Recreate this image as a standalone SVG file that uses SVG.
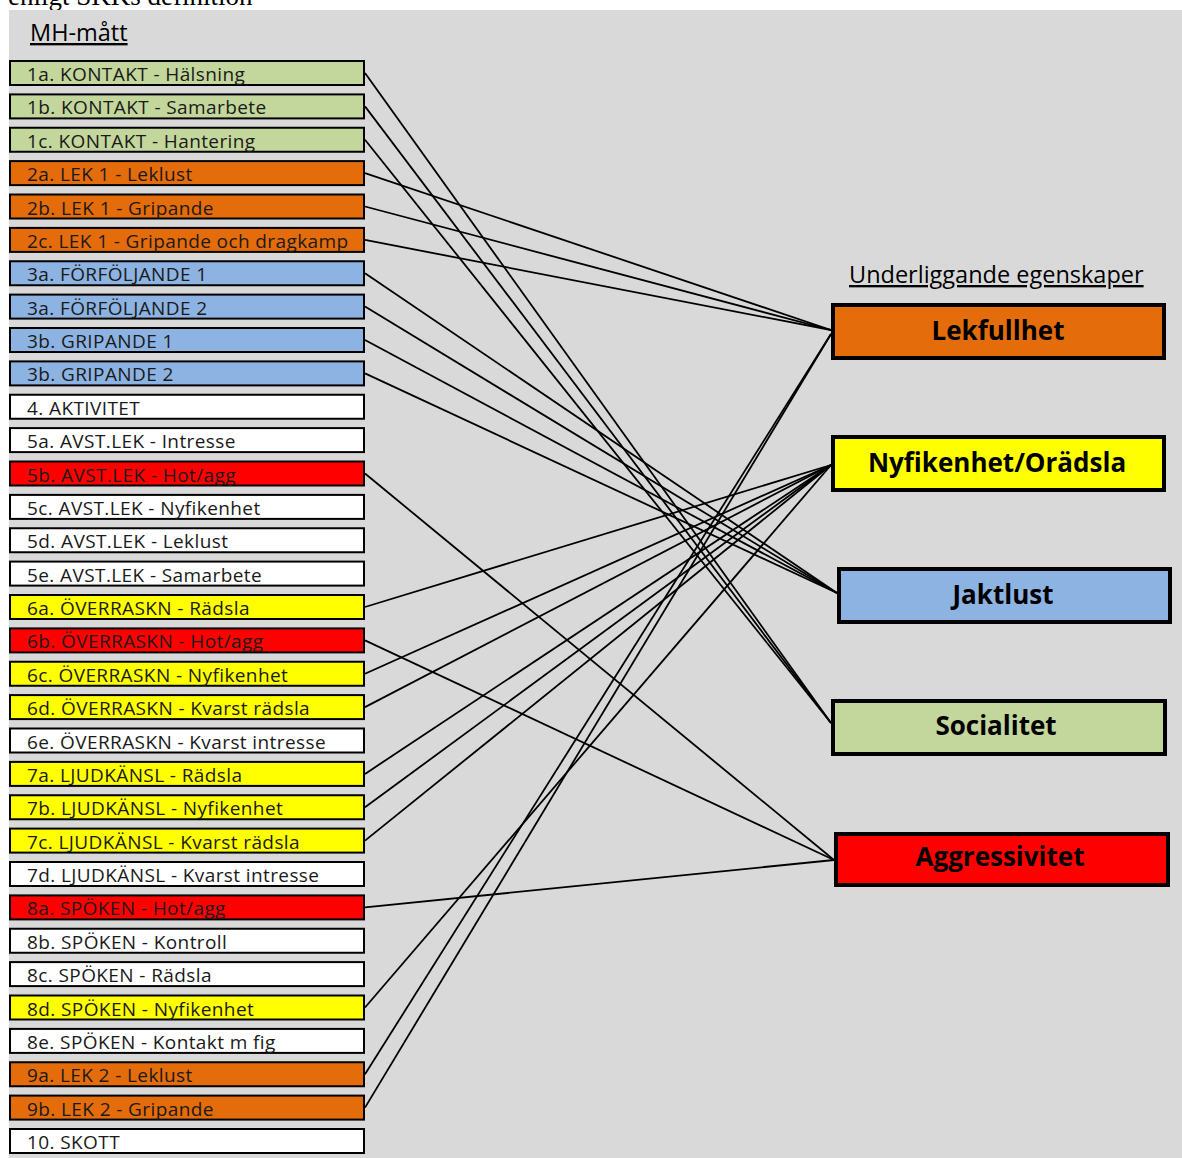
<svg xmlns="http://www.w3.org/2000/svg" width="1182" height="1158" viewBox="0 0 1182 1158">
<style>
.bg{fill:#d9d9d9}
.lb{stroke:#000;stroke-width:2}
.lt{font-family:"Open Sans","Noto Sans",sans-serif;font-size:19px;letter-spacing:0.4px;fill:#1a1a1a}
.rb{stroke:#000;stroke-width:4}
.rt{font-family:"Open Sans","Noto Sans",sans-serif;font-size:26px;font-weight:bold;fill:#000;text-anchor:middle}
.hd{font-family:"Open Sans","Noto Sans",sans-serif;font-size:23.5px;fill:#000;text-decoration:underline}
.g{fill:#c3d69b}.o{fill:#e46c0a}.b{fill:#8db3e2}.w{fill:#fff}.y{fill:#ffff00}.r{fill:#ff0000}
#connectors line{stroke:#000;stroke-width:1.8}
</style>
<text x="8" y="5" style="font-family:'Liberation Serif',serif;font-size:27px;fill:#000">enligt SKKs definition</text>
<rect class="bg" x="9" y="10" width="1173" height="1148"/>
<text class="hd" x="30" y="41">MH-mått</text>
<text class="hd" x="849" y="283">Underliggande egenskaper</text>
<g id="connectors">
<line x1="365" y1="73" x2="831" y2="723"/>
<line x1="365" y1="106.4" x2="831" y2="723"/>
<line x1="365" y1="139.75" x2="831" y2="723"/>
<line x1="365" y1="173.1" x2="831" y2="330"/>
<line x1="365" y1="206.5" x2="831" y2="330"/>
<line x1="365" y1="239.9" x2="831" y2="330"/>
<line x1="365" y1="273.25" x2="837" y2="593"/>
<line x1="365" y1="306.6" x2="837" y2="593"/>
<line x1="365" y1="340" x2="837" y2="593"/>
<line x1="365" y1="373.4" x2="837" y2="593"/>
<line x1="365" y1="473.5" x2="834" y2="860"/>
<line x1="365" y1="640.4" x2="834" y2="860"/>
<line x1="365" y1="907.4" x2="834" y2="860"/>
<line x1="365" y1="607" x2="831" y2="465"/>
<line x1="365" y1="673.75" x2="831" y2="465"/>
<line x1="365" y1="707.1" x2="831" y2="465"/>
<line x1="365" y1="773.9" x2="831" y2="465"/>
<line x1="365" y1="807.25" x2="831" y2="465"/>
<line x1="365" y1="840.6" x2="831" y2="465"/>
<line x1="365" y1="1007.5" x2="831" y2="465"/>
<line x1="365" y1="1074.25" x2="831" y2="334"/>
<line x1="365" y1="1107.6" x2="831" y2="334"/>
</g>
<g id="n1a"><rect class="lb g" x="10" y="61" width="354" height="24"/><text class="lt" x="27" y="81">1a. KONTAKT - Hälsning</text></g>
<g id="n1b"><rect class="lb g" x="10" y="94.4" width="354" height="24"/><text class="lt" x="27" y="114.4">1b. KONTAKT - Samarbete</text></g>
<g id="n1c"><rect class="lb g" x="10" y="127.75" width="354" height="24"/><text class="lt" x="27" y="147.75">1c. KONTAKT - Hantering</text></g>
<g id="n2a"><rect class="lb o" x="10" y="161.1" width="354" height="24"/><text class="lt" x="27" y="181.1">2a. LEK 1 - Leklust</text></g>
<g id="n2b"><rect class="lb o" x="10" y="194.5" width="354" height="24"/><text class="lt" x="27" y="214.5">2b. LEK 1 - Gripande</text></g>
<g id="n2c"><rect class="lb o" x="10" y="227.9" width="354" height="24"/><text class="lt" x="27" y="247.9">2c. LEK 1 - Gripande och dragkamp</text></g>
<g id="n3a1"><rect class="lb b" x="10" y="261.25" width="354" height="24"/><text class="lt" x="27" y="281.25">3a. FÖRFÖLJANDE 1</text></g>
<g id="n3a2"><rect class="lb b" x="10" y="294.6" width="354" height="24"/><text class="lt" x="27" y="314.6">3a. FÖRFÖLJANDE 2</text></g>
<g id="n3b1"><rect class="lb b" x="10" y="328" width="354" height="24"/><text class="lt" x="27" y="348">3b. GRIPANDE 1</text></g>
<g id="n3b2"><rect class="lb b" x="10" y="361.4" width="354" height="24"/><text class="lt" x="27" y="381.4">3b. GRIPANDE 2</text></g>
<g id="n4"><rect class="lb w" x="10" y="394.75" width="354" height="24"/><text class="lt" x="27" y="414.75">4. AKTIVITET</text></g>
<g id="n5a"><rect class="lb w" x="10" y="428.1" width="354" height="24"/><text class="lt" x="27" y="448.1">5a. AVST.LEK - Intresse</text></g>
<g id="n5b"><rect class="lb r" x="10" y="461.5" width="354" height="24"/><text class="lt" x="27" y="481.5">5b. AVST.LEK - Hot/agg</text></g>
<g id="n5c"><rect class="lb w" x="10" y="494.9" width="354" height="24"/><text class="lt" x="27" y="514.9">5c. AVST.LEK - Nyfikenhet</text></g>
<g id="n5d"><rect class="lb w" x="10" y="528.25" width="354" height="24"/><text class="lt" x="27" y="548.25">5d. AVST.LEK - Leklust</text></g>
<g id="n5e"><rect class="lb w" x="10" y="561.6" width="354" height="24"/><text class="lt" x="27" y="581.6">5e. AVST.LEK - Samarbete</text></g>
<g id="n6a"><rect class="lb y" x="10" y="595" width="354" height="24"/><text class="lt" x="27" y="615">6a. ÖVERRASKN - Rädsla</text></g>
<g id="n6b"><rect class="lb r" x="10" y="628.4" width="354" height="24"/><text class="lt" x="27" y="648.4">6b. ÖVERRASKN - Hot/agg</text></g>
<g id="n6c"><rect class="lb y" x="10" y="661.75" width="354" height="24"/><text class="lt" x="27" y="681.75">6c. ÖVERRASKN - Nyfikenhet</text></g>
<g id="n6d"><rect class="lb y" x="10" y="695.1" width="354" height="24"/><text class="lt" x="27" y="715.1">6d. ÖVERRASKN - Kvarst rädsla</text></g>
<g id="n6e"><rect class="lb w" x="10" y="728.5" width="354" height="24"/><text class="lt" x="27" y="748.5">6e. ÖVERRASKN - Kvarst intresse</text></g>
<g id="n7a"><rect class="lb y" x="10" y="761.9" width="354" height="24"/><text class="lt" x="27" y="781.9">7a. LJUDKÄNSL - Rädsla</text></g>
<g id="n7b"><rect class="lb y" x="10" y="795.25" width="354" height="24"/><text class="lt" x="27" y="815.25">7b. LJUDKÄNSL - Nyfikenhet</text></g>
<g id="n7c"><rect class="lb y" x="10" y="828.6" width="354" height="24"/><text class="lt" x="27" y="848.6">7c. LJUDKÄNSL - Kvarst rädsla</text></g>
<g id="n7d"><rect class="lb w" x="10" y="862" width="354" height="24"/><text class="lt" x="27" y="882">7d. LJUDKÄNSL - Kvarst intresse</text></g>
<g id="n8a"><rect class="lb r" x="10" y="895.4" width="354" height="24"/><text class="lt" x="27" y="915.4">8a. SPÖKEN - Hot/agg</text></g>
<g id="n8b"><rect class="lb w" x="10" y="928.75" width="354" height="24"/><text class="lt" x="27" y="948.75">8b. SPÖKEN - Kontroll</text></g>
<g id="n8c"><rect class="lb w" x="10" y="962.1" width="354" height="24"/><text class="lt" x="27" y="982.1">8c. SPÖKEN - Rädsla</text></g>
<g id="n8d"><rect class="lb y" x="10" y="995.5" width="354" height="24"/><text class="lt" x="27" y="1015.5">8d. SPÖKEN - Nyfikenhet</text></g>
<g id="n8e"><rect class="lb w" x="10" y="1028.9" width="354" height="24"/><text class="lt" x="27" y="1048.9">8e. SPÖKEN - Kontakt m fig</text></g>
<g id="n9a"><rect class="lb o" x="10" y="1062.25" width="354" height="24"/><text class="lt" x="27" y="1082.25">9a. LEK 2 - Leklust</text></g>
<g id="n9b"><rect class="lb o" x="10" y="1095.6" width="354" height="24"/><text class="lt" x="27" y="1115.6">9b. LEK 2 - Gripande</text></g>
<g id="n10"><rect class="lb w" x="10" y="1129" width="354" height="24"/><text class="lt" x="27" y="1149">10. SKOTT</text></g>
<g id="lekfullhet"><rect class="rb o" x="833" y="305" width="331" height="53"/><text class="rt" x="998" y="340">Lekfullhet</text></g>
<g id="nyfikenhet"><rect class="rb y" x="833" y="437" width="331" height="53"/><text class="rt" x="997" y="472">Nyfikenhet/Orädsla</text></g>
<g id="jaktlust"><rect class="rb b" x="839" y="569" width="331" height="53"/><text class="rt" x="1003" y="604">Jaktlust</text></g>
<g id="socialitet"><rect class="rb g" x="833" y="701" width="332" height="53"/><text class="rt" x="996" y="735">Socialitet</text></g>
<g id="aggressivitet"><rect class="rb r" x="836" y="834" width="332" height="51"/><text class="rt" x="1000" y="866">Aggressivitet</text></g>
</svg>
